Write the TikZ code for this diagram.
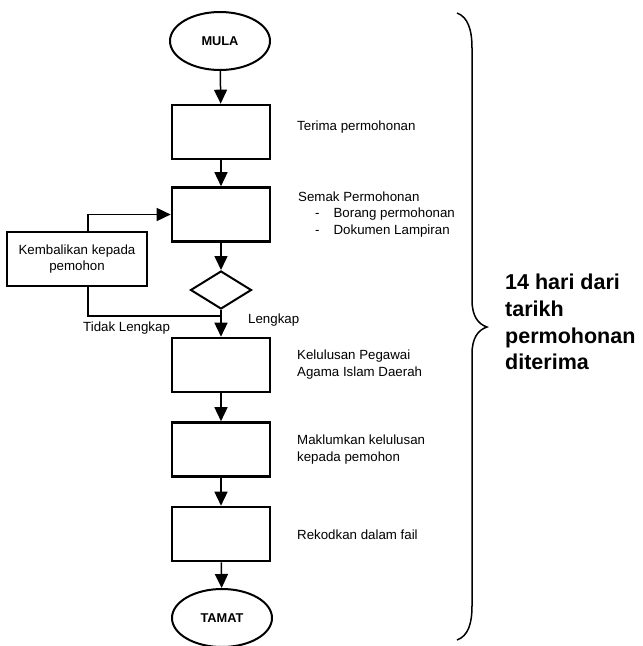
\documentclass[tikz,border=0pt]{standalone}
\usepackage{fontspec}
\setmainfont{Liberation Sans}
\usetikzlibrary{shapes.geometric,arrows.meta}
\begin{document}
\begin{tikzpicture}[x=1pt,y=-1pt,
  stepbox/.style={draw,line width=2.6pt,minimum width=98pt,minimum height=54pt,inner sep=0pt},
  term/.style={draw,ellipse,line width=2pt,minimum width=100pt,minimum height=58pt,inner sep=0pt,font=\fontsize{12.8}{15}\selectfont\bfseries},
  decide/.style={draw,diamond,line width=2pt,minimum width=61pt,minimum height=38pt,inner sep=0pt,aspect=1.6},
  side/.style={anchor=west,inner sep=0pt,align=left,font=\fontsize{13.3}{17}\selectfont},
  lbl/.style={inner sep=0pt,font=\fontsize{13.3}{17}\selectfont},
  arr/.style={line width=1.5pt,-{Triangle[length=14pt,width=13pt]}},
  conn/.style={line width=1.5pt},
  bigtxt/.style={anchor=west,inner sep=0pt,align=left,font=\fontsize{21.5}{26.7}\selectfont\bfseries}
]
\useasboundingbox (0,0) rectangle (643,646);

\node[term] (mula) at (220,41) {MULA};
\node[stepbox] (b1) at (221,132) {};
\node[stepbox] (b2) at (221,214.5) {};
\node[decide] (d) at (221,290) {};
\node[stepbox] (b3) at (221,365) {};
\node[stepbox] (b4) at (221,449.5) {};
\node[stepbox] (b5) at (221,534) {};
\node[term] (tamat) at (222,618) {TAMAT};
\node[stepbox,minimum width=140pt,align=center,font=\fontsize{13.3}{16}\selectfont] (k) at (77,259) {Kembalikan kepada\\pemohon};

\coordinate (j) at (221,316);
\coordinate (kb) at (88,286);
\coordinate (kt) at (88,232);

\draw[arr] (mula) -- (b1);
\draw[arr] (b1) -- (b2);
\draw[arr] (b2) -- (d);
\draw[arr] (d) -- (b3);
\draw[arr] (b3) -- (b4);
\draw[arr] (b4) -- (b5);
\draw[arr] (b5) -- (tamat);
\draw[conn] (kb) |- (j);
\draw[arr] (kt) |- (b2.west);

\node[side] (t1) at (297,127) {Terima permohonan};
\node[side] (t2) at (298,197) {Semak Permohonan};
\node[side] (t2a) at (315,214) {-\hspace{14pt}Borang permohonan};
\node[side] (t2b) at (315,231) {-\hspace{14pt}Dokumen Lampiran};
\node[side] (t3) at (297,365) {Kelulusan Pegawai\\Agama Islam Daerah};
\node[side] (t4) at (297,450) {Maklumkan kelulusan\\kepada pemohon};
\node[side] (t5) at (297,535) {Rekodkan dalam fail};
\node[lbl,anchor=west] (lk) at (248,320) {Lengkap};
\node[lbl,anchor=west] (tl) at (83,328) {Tidak Lengkap};

\draw[line width=1.5pt] (457,13) .. controls (468,17) and (472,30) .. (472,48)
  -- (472,300) .. controls (472,316) and (478,324) .. (487,327)
  .. controls (478,330) and (472,338) .. (472,354)
  -- (472,606) .. controls (472,624) and (468,636) .. (457,640);

\node[bigtxt] (big) at (505,322) {14 hari dari\\tarikh\\permohonan\\diterima};
\end{tikzpicture}
\end{document}
